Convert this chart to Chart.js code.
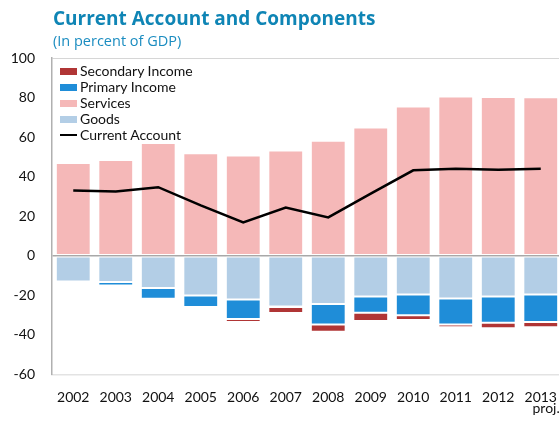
<!DOCTYPE html>
<html>
<head>
<meta charset="utf-8">
<script src="https://cdn.jsdelivr.net/npm/chart.js@4"></script>
<style>
  html, body { margin: 0; padding: 0; background: #fff; overflow: hidden; }
  #wrap { position: relative; width: 564px; height: 422px; }
  #title { position: absolute; left: 53px; top: 5px; font: bold 19px "Open Sans", sans-serif; color: #0f85b5; white-space: nowrap; }
  #subtitle { position: absolute; left: 53px; top: 31px; font: 14.5px "Open Sans", sans-serif; color: #1a8cc0; white-space: nowrap; }
  #legend { position: absolute; left: 60px; top: 63px; font: 14px Lato, sans-serif; color: #111; }
  .item { height: 16px; line-height: 16px; display: flex; align-items: center; white-space: nowrap; }
  .sw { width: 17px; height: 7px; margin-right: 3px; }
  .ln { width: 17px; height: 2.5px; margin-right: 3px; background: #000; }
</style>
</head>
<body>
<div id="wrap">
  <canvas id="c" width="564" height="422"></canvas>
  <div id="title">Current Account and Components</div>
  <div id="subtitle">(In percent of GDP)</div>
  <div id="legend"></div>
</div>
<script>
const categories = ['2002','2003','2004','2005','2006','2007','2008','2009','2010','2011','2012',['2013','   proj.']];
const goods = [-13.0,-13.3,-16.3,-20.1,-22.1,-25.6,-24.4,-20.6,-19.6,-21.6,-20.6,-19.6];
const services = [46.9,48.4,57.0,51.9,50.7,53.3,58.2,64.9,75.5,80.6,80.3,80.1];
const primaryIncome = [0,-1.7,-5.4,-5.8,-9.9,-0.3,-10.3,-8.2,-10.4,-13.1,-13.3,-13.9];
const secondaryIncome = [-0.4,0,-0.7,-0.9,-1.5,-3.0,-3.7,-4.1,-2.4,-1.4,-2.7,-2.6];
const currentAccount = [33.0,32.5,34.7,25.5,16.9,24.4,19.4,31.4,43.2,44.0,43.5,44.0];
const yTicks = [-60,-40,-20,0,20,40,60,80,100];

const C = { secondary:'#b03535', primary:'#1f8dd8', services:'#f5b8b8', goods:'#b3cee6' };
const barStyle = { borderWidth: 1, borderColor: 'rgba(255,255,255,0.55)', borderSkipped: false, barPercentage: 0.82, categoryPercentage: 1, order: 2, stack: 'bars' };

const chart = new Chart(document.getElementById('c'), {
  type: 'bar',
  data: {
    labels: categories,
    datasets: [
      { label: 'Current Account', type: 'line', data: currentAccount, borderColor: '#000', backgroundColor: '#000', borderWidth: 2.5, pointRadius: 0, tension: 0, order: 0, stack: 'ca' },
      Object.assign({ label: 'Goods', data: goods, backgroundColor: C.goods }, barStyle),
      Object.assign({ label: 'Services', data: services, backgroundColor: C.services }, barStyle),
      Object.assign({ label: 'Primary Income', data: primaryIncome, backgroundColor: C.primary }, barStyle),
      Object.assign({ label: 'Secondary Income', data: secondaryIncome, backgroundColor: C.secondary }, barStyle)
    ]
  },
  options: {
    responsive: false,
    animation: false,
    layout: { padding: { top: 58, right: 2, left: 0, bottom: 0 } },
    plugins: { legend: { display: false }, tooltip: { enabled: false }, title: { display: false } },
    scales: {
      x: {
        stacked: true,
        grid: { display: false, drawTicks: false },
        border: { display: true, color: '#e3e3e3', width: 1.5 },
        ticks: { font: { family: 'Lato', size: 14, lineHeight: 0.78 }, color: '#111', padding: 18, maxRotation: 0, autoSkip: false },
        afterFit: s => { s.height = 47.5; s.paddingLeft = 0; s.paddingRight = 0; }
      },
      y: {
        stacked: true,
        min: -60, max: 100,
        afterBuildTicks: s => { s.ticks = yTicks.map(v => ({ value: v })); },
        grid: {
          drawTicks: false,
          color: ctx => ctx.tick && ctx.tick.value === 0 ? '#a8a8a8' : (ctx.tick && ctx.tick.value === 100 ? '#d6d6d6' : 'rgba(0,0,0,0)'),
          lineWidth: ctx => ctx.tick && ctx.tick.value === 0 ? 1.5 : 1
        },
        border: { display: true, color: '#b0b0b0', width: 1.5 },
        ticks: { font: { family: 'Lato', size: 14 }, color: '#111', padding: 17 },
        afterFit: s => { s.width = 52; s.paddingTop = 0; s.paddingBottom = 0; }
      }
    }
  }
});

// HTML legend built from the chart datasets
const legendOrder = ['Secondary Income','Primary Income','Services','Goods','Current Account'];
const lg = document.getElementById('legend');
legendOrder.forEach(name => {
  const ds = chart.data.datasets.find(d => d.label === name);
  const row = document.createElement('div'); row.className = 'item';
  const sw = document.createElement('span');
  if (ds.type === 'line') { sw.className = 'ln'; } else { sw.className = 'sw'; sw.style.background = ds.backgroundColor; }
  const t = document.createElement('span'); t.textContent = name;
  row.appendChild(sw); row.appendChild(t); lg.appendChild(row);
});
</script>
</body>
</html>
